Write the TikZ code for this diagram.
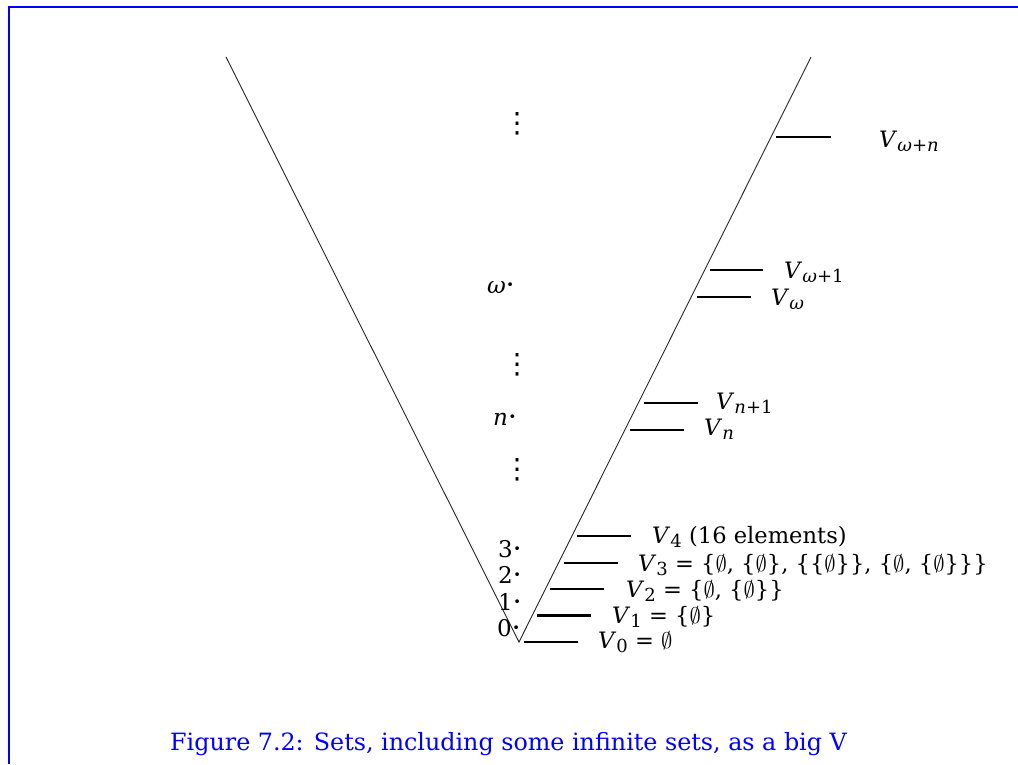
\RequirePackage{fix-cm}
\documentclass[tikz,border=0pt]{standalone}
\usepackage{amsmath}
\usepackage{fontspec}
\setmainfont{DejaVu Serif}
\newfontfamily\dvsans{DejaVu Sans}
\newcommand\Vsub[1]{\textit{V}\raisebox{-0.2em}{\fontsize{18}{19}\selectfont #1}}
\newcommand\es{$\emptyset$}
\newcommand\dotb{\hspace{0.5pt}\raisebox{4pt}{\fontsize{13}{13}\selectfont •}}
\newcommand\vdts{{\dvsans\fontsize{28}{30}\selectfont ⋮}}
\begin{document}
\begin{tikzpicture}[x=1pt,y=-1pt,
  vline/.style={line width=0.9pt, black!85},
  bar/.style={line width=2.6pt},
  lab/.style={anchor=base west, inner sep=0pt, font=\fontsize{22.6}{27}\selectfont},
  ord/.style={anchor=base west, inner sep=0pt, font=\fontsize{23}{27}\selectfont},
  vd/.style={inner sep=0pt},
  captext/.style={anchor=base west, inner sep=0pt, text=blue, font=\fontsize{23.8}{28}\selectfont}]
\useasboundingbox (0,0) rectangle (1018,764);
% frame
\coordinate (fbl) at (9,764);
\coordinate (ftl) at (9,7);
\coordinate (ftr) at (1018,7);
\draw[blue, line width=2.2pt] (fbl) -- (ftl) -- (ftr);
% the big V
\coordinate (lt) at (226,57);
\coordinate (bot) at (519,642);
\coordinate (rt) at (811,57);
\draw[vline] (lt) -- (bot) -- (rt);
% bars
\coordinate (b0a) at (524,642);   \coordinate (b0b) at (578,642);
\coordinate (b1a) at (537,615.5); \coordinate (b1b) at (591,615.5);
\coordinate (b2a) at (550,589);   \coordinate (b2b) at (604,589);
\coordinate (b3a) at (564,563);   \coordinate (b3b) at (618,563);
\coordinate (b4a) at (577,536);   \coordinate (b4b) at (631,536);
\coordinate (bna) at (630,430);   \coordinate (bnb) at (684,430);
\coordinate (bn1a) at (644,403);  \coordinate (bn1b) at (698,403);
\coordinate (bwa) at (697,297);   \coordinate (bwb) at (751,297);
\coordinate (bw1a) at (710,270);  \coordinate (bw1b) at (763,270);
\coordinate (bwna) at (776,137);  \coordinate (bwnb) at (831,137);
\foreach \b in {b0,b1,b2,b3,b4,bn,bn1,bw,bw1,bwn}
  \draw[bar] (\b a) -- (\b b);
% labels
\node[lab] (l0) at (598,648) {\Vsub{0} = \es};
\node[lab] (l1) at (612,623) {\Vsub{1} = \{\es\}};
\node[lab] (l2) at (626,597) {\Vsub{2} = \{\es, \{\es\}\}};
\node[lab] (l3) at (638,571) {\Vsub{3} = \{\es, \{\es\}, \{\{\es\}\}, \{\es, \{\es\}\}\}};
\node[lab] (l4) at (652,543) {\Vsub{4} (16 elements)};
\node[lab] (ln) at (704,435) {\Vsub{\textit{n}}};
\node[lab] (ln1) at (716,409) {\Vsub{\textit{n}+1}};
\node[lab] (lw) at (771,305) {\Vsub{\textit{ω}}};
\node[lab] (lw1) at (784,278) {\Vsub{\textit{ω}+1}};
\node[lab] (lwn) at (879,147) {\Vsub{\textit{ω}+\textit{n}}};
% ordinals
\node[ord] (o0) at (497,636) {0\dotb};
\node[ord] (o1) at (498,610) {1\dotb};
\node[ord] (o2) at (498,583) {2\dotb};
\node[ord] (o3) at (498,557) {3\dotb};
\node[ord] (on) at (493,425) {\textit{n}\dotb};
\node[ord] (ow) at (487,293) {\textit{ω}\dotb};
% vertical dots
\node[vd] (d1) at (517,124) {\vdts};
\node[vd] (d2) at (517,365) {\vdts};
\node[vd] (d3) at (517,470) {\vdts};
% caption
\node[captext] (capt) at (170,750) {Figure 7.2: Sets, including some infinite sets, as a big V};
\end{tikzpicture}
\end{document}
